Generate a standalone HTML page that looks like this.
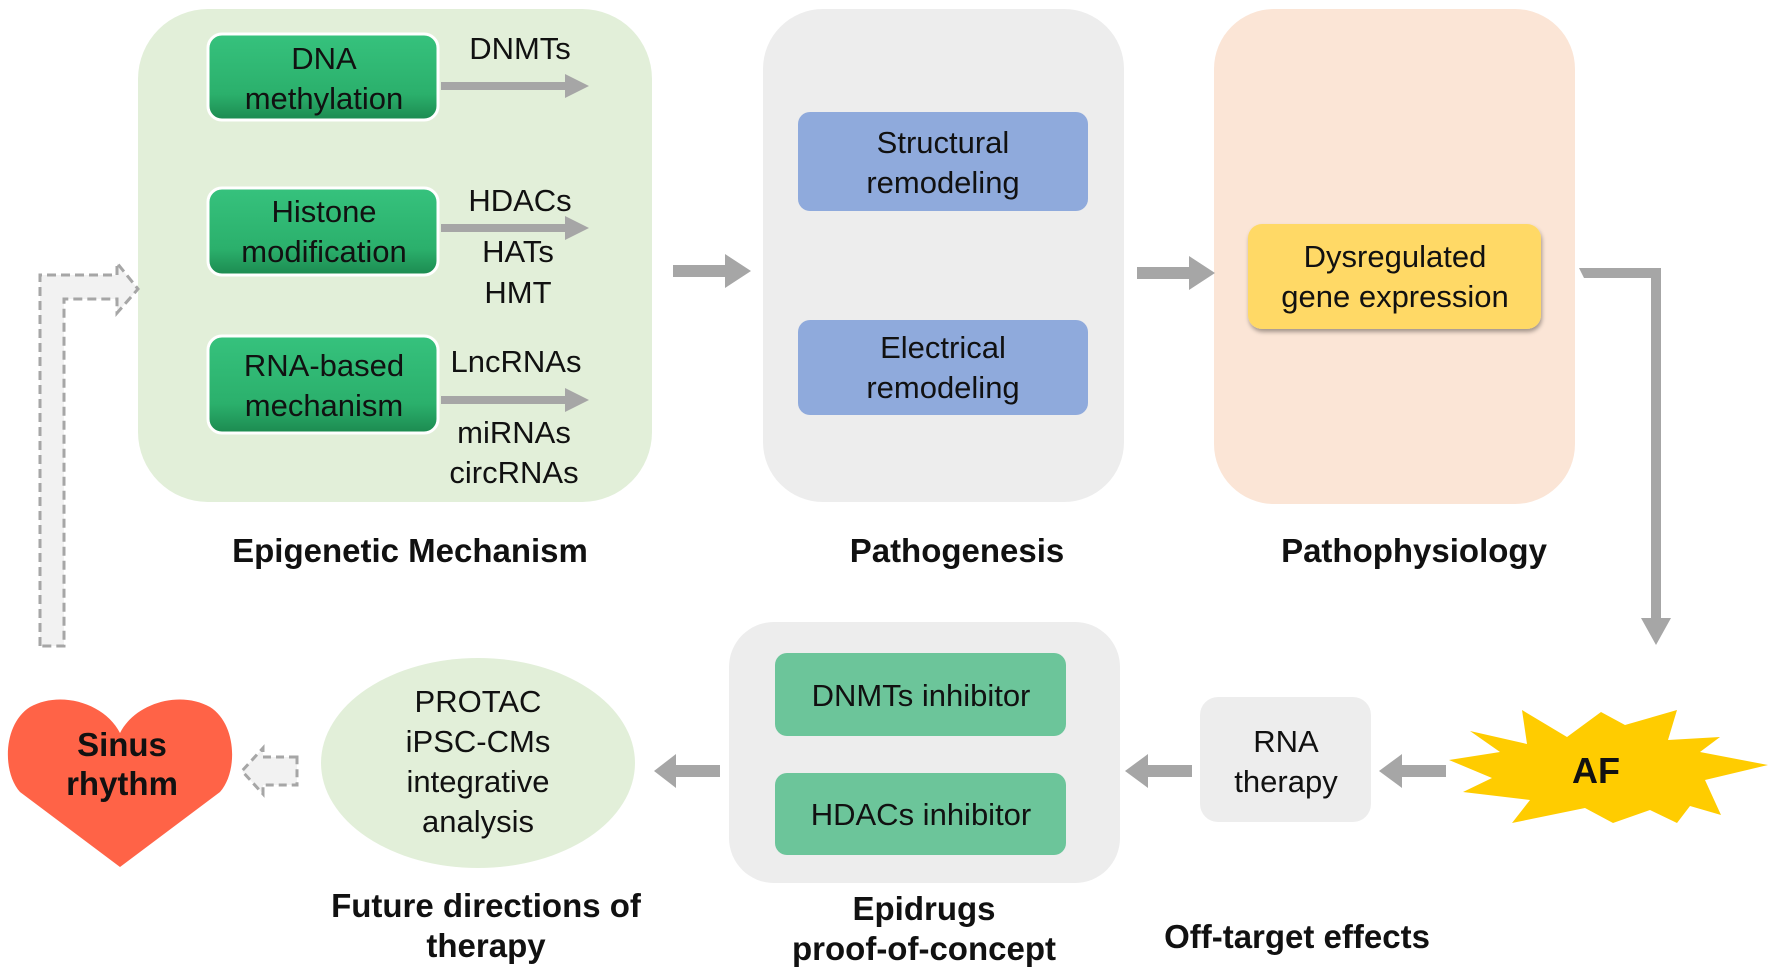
<!DOCTYPE html>
<html><head><meta charset="utf-8"><style>
html,body{margin:0;padding:0;background:#fff}
svg{display:block}
text{font-family:"Liberation Sans",Arial,sans-serif;fill:#111}
.t{font-size:31px}
.b{font-size:33px;font-weight:bold}
</style></head><body>
<svg width="1772" height="975" viewBox="0 0 1772 975" xmlns="http://www.w3.org/2000/svg">
<defs>
<linearGradient id="g" x1="0" y1="0" x2="0" y2="1">
<stop offset="0" stop-color="#36c27d"/><stop offset="0.7" stop-color="#2bb06c"/><stop offset="1" stop-color="#1c8a50"/>
</linearGradient>
<filter id="sh" x="-10%" y="-10%" width="120%" height="130%"><feDropShadow dx="1" dy="3" stdDeviation="2" flood-color="#000" flood-opacity="0.35"/></filter>
</defs>

<rect x="138" y="9" width="514" height="493" rx="70" fill="#e2efd9"/>
<rect x="763" y="9" width="361" height="493" rx="60" fill="#ededed"/>
<rect x="1214" y="9" width="361" height="495" rx="60" fill="#fbe5d6"/>

<rect x="208" y="34" width="230" height="86" rx="14" fill="url(#g)" stroke="#fff" stroke-width="3"/>
<rect x="208" y="188" width="230" height="87" rx="14" fill="url(#g)" stroke="#fff" stroke-width="3"/>
<rect x="208" y="336" width="230" height="97" rx="14" fill="url(#g)" stroke="#fff" stroke-width="3"/>
<text class="t" text-anchor="middle" x="324" y="69">DNA</text>
<text class="t" text-anchor="middle" x="324" y="109">methylation</text>
<text class="t" text-anchor="middle" x="324" y="222">Histone</text>
<text class="t" text-anchor="middle" x="324" y="262">modification</text>
<text class="t" text-anchor="middle" x="324" y="376">RNA-based</text>
<text class="t" text-anchor="middle" x="324" y="416">mechanism</text>

<g fill="#a6a6a6">
<polygon points="441,82 565,82 565,74 589,86 565,98 565,90 441,90"/>
<polygon points="441,224 565,224 565,216 589,228 565,240 565,232 441,232"/>
<polygon points="441,396 565,396 565,388 589,400 565,412 565,404 441,404"/>
</g>
<text class="t" text-anchor="middle" x="520" y="59">DNMTs</text>
<text class="t" text-anchor="middle" x="520" y="211">HDACs</text>
<text class="t" text-anchor="middle" x="518" y="262">HATs</text>
<text class="t" text-anchor="middle" x="518" y="303">HMT</text>
<text class="t" text-anchor="middle" x="516" y="372">LncRNAs</text>
<text class="t" text-anchor="middle" x="514" y="443">miRNAs</text>
<text class="t" text-anchor="middle" x="514" y="483">circRNAs</text>

<rect x="798" y="112" width="290" height="99" rx="12" fill="#8faadc"/>
<rect x="798" y="320" width="290" height="95" rx="12" fill="#8faadc"/>
<text class="t" text-anchor="middle" x="943" y="153">Structural</text>
<text class="t" text-anchor="middle" x="943" y="193">remodeling</text>
<text class="t" text-anchor="middle" x="943" y="358">Electrical</text>
<text class="t" text-anchor="middle" x="943" y="398">remodeling</text>

<rect x="1248" y="224" width="293" height="105" rx="14" fill="#ffd966" filter="url(#sh)"/>
<text class="t" text-anchor="middle" x="1395" y="267">Dysregulated</text>
<text class="t" text-anchor="middle" x="1395" y="307">gene expression</text>

<g fill="#a6a6a6">
<polygon points="673,265 725,265 725,254 751,271 725,288 725,277 673,277"/>
<polygon points="1137,267 1189,267 1189,256 1215,273 1189,290 1189,279 1137,279"/>
<polygon points="1579,268 1661,268 1661,618 1671,618 1656,645 1641,618 1651,618 1651,278 1584,278"/>
<polygon points="1446,765 1402,765 1402,754 1379,771 1402,788 1402,777 1446,777"/>
<polygon points="1192,765 1148,765 1148,754 1125,771 1148,788 1148,777 1192,777"/>
<polygon points="720,765 676,765 676,754 654,771 676,788 676,777 720,777"/>
</g>

<text class="b" text-anchor="middle" x="410" y="562">Epigenetic Mechanism</text>
<text class="b" text-anchor="middle" x="957" y="562">Pathogenesis</text>
<text class="b" text-anchor="middle" x="1414" y="562">Pathophysiology</text>

<polygon fill="#ffcc00" points="1449,760 1500,752 1470,731 1527,744 1522,710 1567,737 1601,712 1625,725 1677,710 1668,740 1720,737 1700,752 1768,765 1705,780 1721,815 1690,806 1677,823 1650,810 1613,823 1585,808 1512,823 1530,800 1463,792 1492,778"/>
<text class="b" text-anchor="middle" x="1596" y="783" style="font-size:36px">AF</text>

<rect x="1200" y="697" width="171" height="125" rx="18" fill="#ededed"/>
<text class="t" text-anchor="middle" x="1286" y="752">RNA</text>
<text class="t" text-anchor="middle" x="1286" y="792">therapy</text>
<text class="b" text-anchor="middle" x="1297" y="948">Off-target effects</text>

<rect x="729" y="622" width="391" height="261" rx="45" fill="#ededed"/>
<rect x="775" y="653" width="291" height="83" rx="12" fill="#6cc59a"/>
<rect x="775" y="773" width="291" height="82" rx="12" fill="#6cc59a"/>
<text class="t" text-anchor="middle" x="921" y="706">DNMTs inhibitor</text>
<text class="t" text-anchor="middle" x="921" y="825">HDACs inhibitor</text>
<text class="b" text-anchor="middle" x="924" y="920">Epidrugs</text>
<text class="b" text-anchor="middle" x="924" y="960">proof-of-concept</text>

<ellipse cx="478" cy="763" rx="157" ry="105" fill="#e2efd9"/>
<text class="t" text-anchor="middle" x="478" y="712">PROTAC</text>
<text class="t" text-anchor="middle" x="478" y="752">iPSC-CMs</text>
<text class="t" text-anchor="middle" x="478" y="792">integrative</text>
<text class="t" text-anchor="middle" x="478" y="832">analysis</text>
<text class="b" text-anchor="middle" x="486" y="917">Future directions of</text>
<text class="b" text-anchor="middle" x="486" y="957">therapy</text>

<polygon points="297,757 263,757 263,748 242,771 263,794 263,785 297,785" fill="#f2f2f2" stroke="#a6a6a6" stroke-width="3" stroke-dasharray="8,5"/>

<path d="M120,733 C105,703 60,690 30,707 C3,724 2,772 20,792 L120,867 L220,792 C238,772 237,724 210,707 C180,690 135,703 120,733 Z" fill="#ff6347"/>
<text class="b" text-anchor="middle" x="122" y="756">Sinus</text>
<text class="b" text-anchor="middle" x="122" y="795">rhythm</text>

<polygon points="40,646 40,275 117,275 117,263 138,289 117,313 117,299 64,299 64,646" fill="#f2f2f2" stroke="#a6a6a6" stroke-width="3" stroke-dasharray="9,5"/>
</svg>
</body></html>
